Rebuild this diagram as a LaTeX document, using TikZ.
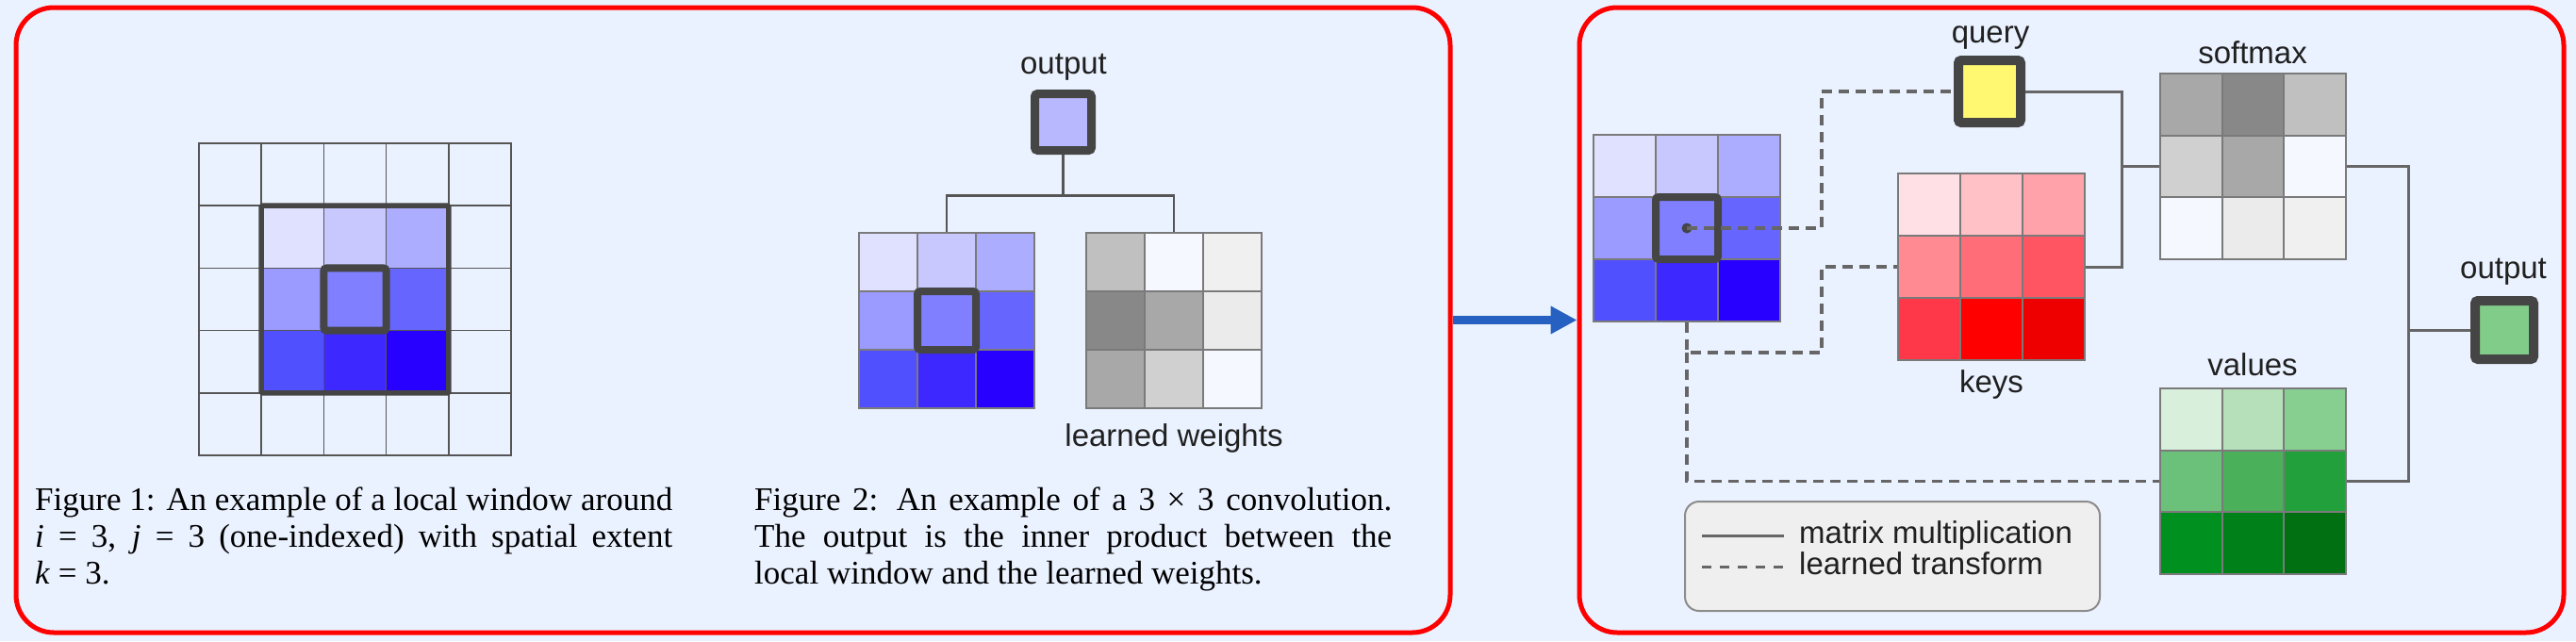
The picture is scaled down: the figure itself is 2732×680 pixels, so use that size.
\documentclass[tikz,border=0pt]{standalone}
\usepackage{fontspec}
\setmainfont{Liberation Serif}
\newfontfamily\labelfont{Liberation Sans}
\usetikzlibrary{arrows.meta}
\definecolor{pagebg}{HTML}{EBF2FF}
\definecolor{gridgray}{HTML}{555555}
\definecolor{cellgray}{HTML}{7A7A7A}
\definecolor{framegray}{HTML}{454545}
\definecolor{linegray}{HTML}{666666}
\definecolor{labelgray}{HTML}{202020}
\definecolor{flowblue}{HTML}{2660C0}
\definecolor{legendbg}{HTML}{EFEFEF}
\definecolor{legendline}{HTML}{8C8C8C}
\definecolor{winA}{HTML}{E0E0FF}
\definecolor{winB}{HTML}{C8C8FF}
\definecolor{winC}{HTML}{ADADFF}
\definecolor{winD}{HTML}{9A9AFF}
\definecolor{winE}{HTML}{7F7FFF}
\definecolor{winF}{HTML}{6666FF}
\definecolor{winG}{HTML}{5050FF}
\definecolor{winH}{HTML}{3D28FF}
\definecolor{winI}{HTML}{2800FF}
\definecolor{grayA}{HTML}{C0C0C0}
\definecolor{grayB}{HTML}{888888}
\definecolor{grayC}{HTML}{A8A8A8}
\definecolor{grayD}{HTML}{D0D0D0}
\definecolor{grayE}{HTML}{EBEBEB}
\definecolor{grayF}{HTML}{F0F0F0}
\definecolor{grayW}{HTML}{F6F8FF}
\definecolor{keyA}{HTML}{FFE0E4}
\definecolor{keyB}{HTML}{FFC1C6}
\definecolor{keyC}{HTML}{FFA2AA}
\definecolor{keyD}{HTML}{FF8A92}
\definecolor{keyE}{HTML}{FF6E78}
\definecolor{keyF}{HTML}{FF5563}
\definecolor{keyG}{HTML}{FF3849}
\definecolor{keyH}{HTML}{FF0000}
\definecolor{keyI}{HTML}{EE0000}
\definecolor{valA}{HTML}{D8EFDB}
\definecolor{valB}{HTML}{B5E0BA}
\definecolor{valC}{HTML}{86CF90}
\definecolor{valD}{HTML}{6CC17A}
\definecolor{valE}{HTML}{4AB05A}
\definecolor{valF}{HTML}{22A03C}
\definecolor{valG}{HTML}{009020}
\definecolor{valH}{HTML}{008018}
\definecolor{valI}{HTML}{007012}
\definecolor{convout}{HTML}{B8B8FF}
\definecolor{queryyel}{HTML}{FFF870}
\definecolor{outgreen}{HTML}{80CC88}
\tikzset{%
  cell/.style     = {draw=cellgray, line width=2pt, rectangle, inner sep=0pt,
    minimum size=#1},
  cell/.default   = 66pt,
  loc/.style      = {cell=66.2pt, draw=gridgray, line width=1.5pt},
  hilite/.style   = {draw=framegray, line width=8pt, rectangle, rounded corners=3pt,
    inner sep=0pt, minimum size=#1},
  hilite/.default = 66pt,
  panel/.style    = {draw=red, line width=5pt, rectangle, rounded corners=40pt,
    fill=pagebg, inner sep=0pt},
  tag/.style      = {font=\labelfont\fontsize{33}{33}\selectfont, text=labelgray,
    anchor=base, inner sep=0pt},
  capt/.style     = {font=\fontsize{35}{39}\selectfont, text width=676pt,
    align=justify, anchor=north west, inner sep=0pt},
  branch/.style   = {draw=gridgray, line width=2.5pt},
  mmul/.style     = {draw=linegray, line width=3pt}, % matrix multiplication
  ltrans/.style   = {draw=linegray, line width=3.5pt, dash pattern=on 11pt off 7pt}, % learned transform
  flow/.style     = {draw=flowblue, line width=9.5pt, -{Triangle[length=28pt, width=28pt]}}
}
\begin{document}
\begin{tikzpicture}[x=1pt, y=-1pt]
        \fill[pagebg] (0,0) rectangle (2732,680);
        \useasboundingbox (0,0) rectangle (2732,680);
        \draw
        node at(777.5,339.5)[panel, minimum width=1521pt, minimum height=663pt, name=LeftPanel]{}
        node at(2197,339.5)[panel, minimum width=1044pt, minimum height=663pt, name=RightPanel]{};
        \draw[flow] (LeftPanel.east) -- (RightPanel.west);

        % local window
        \draw[node distance=66.2pt]
        node at(244.1,185.1)[loc, name=Loc11]{} node [loc, name=Loc12, right of=Loc11]{} node [loc, name=Loc13, right of=Loc12]{} node [loc, name=Loc14, right of=Loc13]{} node [loc, name=Loc15, right of=Loc14]{}
        node [loc, name=Loc21, below of=Loc11]{} node [loc, fill=winA, name=Loc22, right of=Loc21]{} node [loc, fill=winB, name=Loc23, right of=Loc22]{} node [loc, fill=winC, name=Loc24, right of=Loc23]{} node [loc, name=Loc25, right of=Loc24]{}
        node [loc, name=Loc31, below of=Loc21]{} node [loc, fill=winD, name=Loc32, right of=Loc31]{} node [loc, fill=winE, name=Loc33, right of=Loc32]{} node [loc, fill=winF, name=Loc34, right of=Loc33]{} node [loc, name=Loc35, right of=Loc34]{}
        node [loc, name=Loc41, below of=Loc31]{} node [loc, fill=winG, name=Loc42, right of=Loc41]{} node [loc, fill=winH, name=Loc43, right of=Loc42]{} node [loc, fill=winI, name=Loc44, right of=Loc43]{} node [loc, name=Loc45, right of=Loc44]{}
        node [loc, name=Loc51, below of=Loc41]{} node [loc, name=Loc52, right of=Loc51]{} node [loc, name=Loc53, right of=Loc52]{} node [loc, name=Loc54, right of=Loc53]{} node [loc, name=Loc55, right of=Loc54]{};
        \draw
        node at(Loc33)[hilite=198.6pt, line width=5.5pt, rounded corners=1pt, name=LocWin]{}
        node at(Loc33)[hilite=66.2pt, name=LocMid]{};
        \node at(37,517)[capt, name=Cap1]{Figure 1: An example of a local window around\linebreak \textit{i} = 3, \textit{j} = 3 (one-indexed) with spatial extent\linebreak \textit{k} = 3.};

        % convolution
        \node at(1128,78)[tag, name=ConvOutLbl]{output};
        \node at(1127.5,129.5)[hilite=60pt, line width=9pt, fill=convout, name=ConvOut]{};
        \draw[node distance=62pt]
        node at(942,278)[cell=62pt, fill=winA, name=Conv11]{} node [cell=62pt, fill=winB, name=Conv12, right of=Conv11]{} node [cell=62pt, fill=winC, name=Conv13, right of=Conv12]{}
        node [cell=62pt, fill=winD, name=Conv21, below of=Conv11]{} node [cell=62pt, fill=winE, name=Conv22, right of=Conv21]{} node [cell=62pt, fill=winF, name=Conv23, right of=Conv22]{}
        node [cell=62pt, fill=winG, name=Conv31, below of=Conv21]{} node [cell=62pt, fill=winH, name=Conv32, right of=Conv31]{} node [cell=62pt, fill=winI, name=Conv33, right of=Conv32]{}
        node at(1183,278)[cell=62pt, fill=grayA, name=Wgt11]{} node [cell=62pt, fill=grayW, name=Wgt12, right of=Wgt11]{} node [cell=62pt, fill=grayF, name=Wgt13, right of=Wgt12]{}
        node [cell=62pt, fill=grayB, name=Wgt21, below of=Wgt11]{} node [cell=62pt, fill=grayC, name=Wgt22, right of=Wgt21]{} node [cell=62pt, fill=grayE, name=Wgt23, right of=Wgt22]{}
        node [cell=62pt, fill=grayC, name=Wgt31, below of=Wgt21]{} node [cell=62pt, fill=grayD, name=Wgt32, right of=Wgt31]{} node [cell=62pt, fill=grayW, name=Wgt33, right of=Wgt32]{};
        \node at(Conv22)[hilite=62pt, name=ConvMid]{};
        \node at(1245,473)[tag, name=WgtLbl]{learned weights};
        \draw[branch] (ConvOut.south) -- ++(0,43.5) coordinate (ConvFork);
        \draw[branch] (Conv12.north) |- (ConvFork) -| (Wgt12.north);
        \node at(800,517)[capt, name=Cap2]{Figure 2: An example of a 3 × 3 convolution.\linebreak The output is the inner product between the\linebreak local window and the learned weights.};

        % self-attention
        \draw[node distance=66pt]
        node at(1723,176)[cell, fill=winA, name=Blue11]{} node [cell, fill=winB, name=Blue12, right of=Blue11]{} node [cell, fill=winC, name=Blue13, right of=Blue12]{}
        node [cell, fill=winD, name=Blue21, below of=Blue11]{} node [cell, fill=winE, name=Blue22, right of=Blue21]{} node [cell, fill=winF, name=Blue23, right of=Blue22]{}
        node [cell, fill=winG, name=Blue31, below of=Blue21]{} node [cell, fill=winH, name=Blue32, right of=Blue31]{} node [cell, fill=winI, name=Blue33, right of=Blue32]{}
        node at(2046,217)[cell, fill=keyA, name=Key11]{} node [cell, fill=keyB, name=Key12, right of=Key11]{} node [cell, fill=keyC, name=Key13, right of=Key12]{}
        node [cell, fill=keyD, name=Key21, below of=Key11]{} node [cell, fill=keyE, name=Key22, right of=Key21]{} node [cell, fill=keyF, name=Key23, right of=Key22]{}
        node [cell, fill=keyG, name=Key31, below of=Key21]{} node [cell, fill=keyH, name=Key32, right of=Key31]{} node [cell, fill=keyI, name=Key33, right of=Key32]{};
        \draw[node distance=65.5pt]
        node at(2323.75,110.75)[cell=65.5pt, fill=grayC, name=Soft11]{} node [cell=65.5pt, fill=grayB, name=Soft12, right of=Soft11]{} node [cell=65.5pt, fill=grayA, name=Soft13, right of=Soft12]{}
        node [cell=65.5pt, fill=grayD, name=Soft21, below of=Soft11]{} node [cell=65.5pt, fill=grayC, name=Soft22, right of=Soft21]{} node [cell=65.5pt, fill=grayW, name=Soft23, right of=Soft22]{}
        node [cell=65.5pt, fill=grayW, name=Soft31, below of=Soft21]{} node [cell=65.5pt, fill=grayE, name=Soft32, right of=Soft31]{} node [cell=65.5pt, fill=grayF, name=Soft33, right of=Soft32]{}
        node at(2323.75,444.75)[cell=65.5pt, fill=valA, name=Val11]{} node [cell=65.5pt, fill=valB, name=Val12, right of=Val11]{} node [cell=65.5pt, fill=valC, name=Val13, right of=Val12]{}
        node [cell=65.5pt, fill=valD, name=Val21, below of=Val11]{} node [cell=65.5pt, fill=valE, name=Val22, right of=Val21]{} node [cell=65.5pt, fill=valF, name=Val23, right of=Val22]{}
        node [cell=65.5pt, fill=valG, name=Val31, below of=Val21]{} node [cell=65.5pt, fill=valH, name=Val32, right of=Val31]{} node [cell=65.5pt, fill=valI, name=Val33, right of=Val32]{};
        \draw
        node at(Blue22)[hilite, name=BlueMid]{}
        node at(Blue22)[circle, fill=framegray, minimum size=11pt, inner sep=0pt, name=QDot]{}
        node at(2110,97)[hilite, line width=10pt, fill=queryyel, name=Query]{}
        node at(2656,350)[hilite=62pt, line width=10pt, fill=outgreen, name=OutBox]{};
        \node at(2111,45)[tag, name=QueryLbl]{query};
        \node at(2112,416)[tag, name=KeyLbl]{keys};
        \node at(2389,67)[tag, name=SoftLbl]{softmax};
        \node at(2389,398)[tag, name=ValLbl]{values};
        \node at(2655,295)[tag, name=OutLbl]{output};
        \coordinate (TapX) at (1932,0);
        \coordinate (Fork) at (1789,374);
        \coordinate (JoinQK) at (2250,176.25);
        \coordinate (JoinSV) at (2554,350);
        \draw[ltrans] (QDot.center) -- (QDot -| TapX) |- (Query.west);
        \draw[ltrans] (Blue32.south) -- (Fork) -- (Fork -| TapX) |- (Key21.west);
        \draw[ltrans] (Fork) |- (Val21.west);
        \draw[mmul] (Query.east) -| (JoinQK) |- (Key23.east);
        \draw[mmul] (JoinQK) -- (Soft21.west);
        \draw[mmul] (Soft23.east) -| (JoinSV) |- (Val23.east);
        \draw[mmul] (JoinSV) -- (OutBox.west);

        % legend
        \node at(2007,590)[rectangle, draw=legendline, line width=2pt, fill=legendbg, rounded corners=15pt, minimum width=440pt, minimum height=116pt, name=Legend]{};
        \node at(1908,576)[tag, anchor=base west, name=LegMul]{matrix multiplication};
        \node at(1908,609)[tag, anchor=base west, name=LegTr]{learned transform};
        \coordinate (MulA) at (1805,568);
        \coordinate (MulB) at (1892,568);
        \coordinate (TrA) at (1805,601);
        \coordinate (TrB) at (1892,601);
        \draw[mmul] (MulA) -- (MulB);
        \draw[ltrans, line width=3pt, dash pattern=on 10pt off 9pt] (TrA) -- (TrB);
    \end{tikzpicture}
\end{document}
